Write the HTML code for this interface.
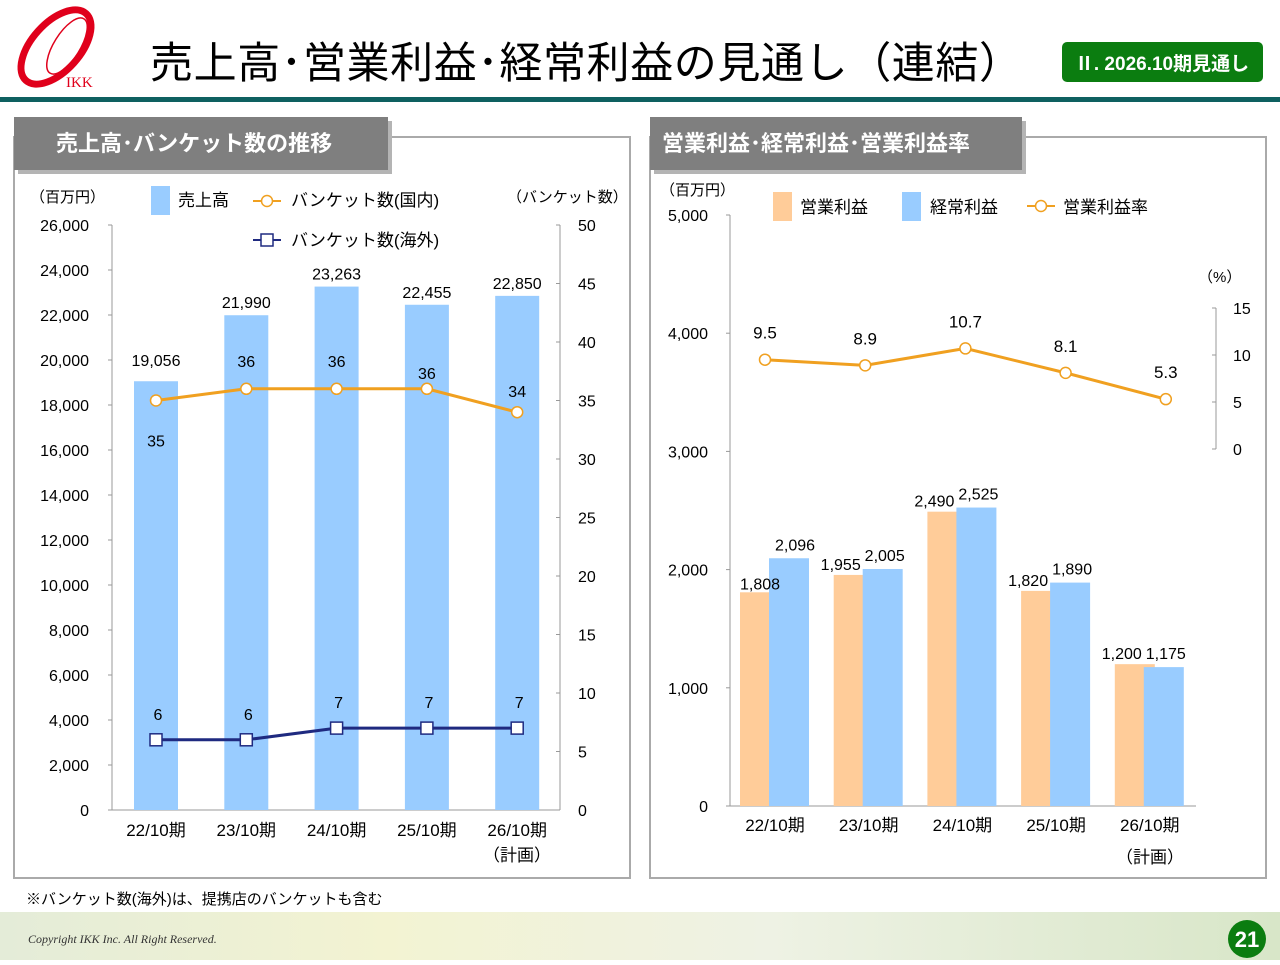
<!DOCTYPE html>
<html><head><meta charset="utf-8">
<style>
body{margin:0;width:1280px;height:960px;overflow:hidden;background:#fff;font-family:"Liberation Sans","Noto Sans CJK JP",sans-serif;}
svg text{font-family:"Liberation Sans","Noto Sans CJK JP",sans-serif;}
svg text.serif{font-family:"Liberation Serif",serif;}
</style></head>
<body>
<svg id="s" width="1280" height="960" xmlns="http://www.w3.org/2000/svg">
<defs>
<linearGradient id="bg" x1="0" x2="1" y1="0" y2="0">
<stop offset="0" stop-color="#e4ecd8"/><stop offset="0.3" stop-color="#f3f3d2"/><stop offset="0.6" stop-color="#eef2e4"/><stop offset="1" stop-color="#d8e6c8"/>
</linearGradient>
</defs>
<rect x="0" y="912" width="1280" height="48" fill="url(#bg)"/>
<g>
<ellipse cx="56" cy="47" rx="45" ry="24" transform="rotate(-48 56 47)" fill="none" stroke="#e0001b" stroke-width="7"/>
<ellipse cx="67" cy="46" rx="32" ry="13" transform="rotate(-58 67 46)" fill="none" stroke="#e0001b" stroke-width="1.5"/>
<text class="serif" x="66" y="87" font-size="15" fill="#e0001b">IKK</text>
</g>
<text x="150" y="78" font-size="43" fill="#000" letter-spacing="0.6">売上高･営業利益･経常利益の見通し（連結）</text>
<rect x="1062" y="42" width="201" height="40" rx="5" fill="#0b7d10"/>
<text x="1162" y="70" font-size="19" fill="#fff" text-anchor="middle" font-weight="bold">Ⅱ. 2026.10期見通し</text>
<rect x="0" y="97" width="1280" height="5" fill="#0e6060"/>

<rect x="14" y="137" width="616" height="741" fill="#fff" stroke="#aaa" stroke-width="2"/>
<rect x="18" y="121" width="374" height="53" fill="#b4b4b4"/>
<rect x="14" y="117" width="374" height="53" fill="#7f7f7f"/>
<text x="56" y="151" font-size="22" font-weight="bold" fill="#fff">売上高･バンケット数の推移</text>

<rect x="650" y="137" width="616" height="741" fill="#fff" stroke="#aaa" stroke-width="2"/>
<rect x="654" y="121" width="372" height="53" fill="#b4b4b4"/>
<rect x="650" y="117" width="372" height="53" fill="#7f7f7f"/>
<text x="662" y="151" font-size="22" font-weight="bold" fill="#fff">営業利益･経常利益･営業利益率</text>

<text x="26" y="904" font-size="15" fill="#000">※バンケット数(海外)は、提携店のバンケットも含む</text>
<text class="serif" x="28" y="943" font-size="12" font-style="italic" fill="#333">Copyright IKK Inc. All Right Reserved.</text>
<circle cx="1247" cy="939" r="19" fill="#0b7d10"/>
<text x="1247" y="947" font-size="22" font-weight="bold" fill="#fff" text-anchor="middle">21</text>
<g id="L"></g><g id="R"></g>
</svg>
<script>
// left chart data
const cats = ["22/10期","23/10期","24/10期","25/10期","26/10期"];
const sales = [19056,21990,23263,22455,22850];
const banqDom = [35,36,36,36,34];
const banqOver = [6,6,7,7,7];
const leftTicks = [0,2000,4000,6000,8000,10000,12000,14000,16000,18000,20000,22000,24000,26000];
const rightTicks = [0,5,10,15,20,25,30,35,40,45,50];
// right chart data
const opInc = [1808,1955,2490,1820,1200];
const ordInc = [2096,2005,2525,1890,1175];
const opMargin = [9.5,8.9,10.7,8.1,5.3];
const profitTicks = [0,1000,2000,3000,4000,5000];
const pctTicks = [0,5,10,15];

const NS="http://www.w3.org/2000/svg";
function mk(parent,tag,attrs,txt){const e=document.createElementNS(NS,tag);for(const k in attrs)e.setAttribute(k,attrs[k]);if(txt!==undefined)e.textContent=txt;parent.appendChild(e);return e;}
const fmt=v=>v.toLocaleString("en-US");

// ---- Left chart
const L=document.getElementById("L");
const lx=i=>156+i*90.3;
const ly=v=>810-v*585/26000;
const ly2=v=>810-v*585/50;
mk(L,"line",{x1:112,y1:225,x2:112,y2:810,stroke:"#999"});
mk(L,"line",{x1:560,y1:225,x2:560,y2:810,stroke:"#999"});
mk(L,"line",{x1:112,y1:810,x2:560,y2:810,stroke:"#999"});
leftTicks.forEach(t=>{
  mk(L,"line",{x1:108,y1:ly(t),x2:112,y2:ly(t),stroke:"#999"});
  const e=mk(L,"text",{x:89,y:ly(t)+6,"font-size":16,"text-anchor":"end"},fmt(t));
  
  
});
rightTicks.forEach(t=>{
  mk(L,"line",{x1:556,y1:ly2(t),x2:560,y2:ly2(t),stroke:"#999"});
  const e=mk(L,"text",{x:578,y:ly2(t)+6,"font-size":16},t);
  
  
});
mk(L,"text",{x:30,y:202,"font-size":15},"（百万円）");
mk(L,"text",{x:507,y:202,"font-size":15},"（バンケット数）");
sales.forEach((v,i)=>{
  const b=mk(L,"rect",{x:lx(i)-22,y:ly(v),width:44,height:810-ly(v),fill:"#99ccff"});
  
  
  mk(L,"text",{x:lx(i),y:ly(v)-(i===0?15:7),"font-size":16,"text-anchor":"middle"},fmt(v));
  const c=mk(L,"text",{x:lx(i),y:836,"font-size":17,"text-anchor":"middle"},cats[i]);
  
  
});
mk(L,"text",{x:517,y:861,"font-size":17,"text-anchor":"middle"},"（計画）");
function poly(g,vals,fx,fy,col){return mk(g,"polyline",{points:vals.map((v,i)=>fx(i)+","+fy(v)).join(" "),fill:"none",stroke:col,"stroke-width":3});}
let p=poly(L,banqDom,lx,ly2,"#f0a020");
p=poly(L,banqOver,lx,ly2,"#1f2a80");
banqDom.forEach((v,i)=>{
  const m=mk(L,"circle",{cx:lx(i),cy:ly2(v),r:5.5,fill:"#fff",stroke:"#f0a020","stroke-width":1.5});
  
  
  const dy=i===0?46:(i===3?-10:(i===4?-15:-22));
  mk(L,"text",{x:lx(i),y:ly2(v)+dy,"font-size":16,"text-anchor":"middle"},v);
});
banqOver.forEach((v,i)=>{
  const m=mk(L,"rect",{x:lx(i)-6,y:ly2(v)-6,width:12,height:12,fill:"#fff",stroke:"#1f2a80","stroke-width":1.5});
  
  
  mk(L,"text",{x:lx(i)+2,y:ly2(v)-20,"font-size":16,"text-anchor":"middle"},v);
});
// legend
mk(L,"rect",{x:151,y:186,width:19,height:29,fill:"#99ccff"});
mk(L,"text",{x:178,y:206,"font-size":17},"売上高");
mk(L,"line",{x1:253,y1:201,x2:281,y2:201,stroke:"#f0a020","stroke-width":2});
mk(L,"circle",{cx:267,cy:201,r:5.5,fill:"#fff",stroke:"#f0a020","stroke-width":1.5});
mk(L,"text",{x:291,y:206,"font-size":17},"バンケット数(国内)");
mk(L,"line",{x1:253,y1:240,x2:281,y2:240,stroke:"#1f2a80","stroke-width":2});
mk(L,"rect",{x:261,y:234,width:12,height:12,fill:"#fff",stroke:"#1f2a80","stroke-width":1.5});
mk(L,"text",{x:291,y:246,"font-size":17},"バンケット数(海外)");

// ---- Right chart
const R=document.getElementById("R");
const rx=i=>775+i*93.7;
const ry=v=>806-v*591/5000;
const ry2=v=>449-v*141/15;
mk(R,"line",{x1:730,y1:215,x2:730,y2:806,stroke:"#999"});
mk(R,"line",{x1:730,y1:806,x2:1196,y2:806,stroke:"#999"});
mk(R,"line",{x1:1216,y1:308,x2:1216,y2:449,stroke:"#999"});
profitTicks.forEach(t=>{
  mk(R,"line",{x1:726,y1:ry(t),x2:730,y2:ry(t),stroke:"#999"});
  const e=mk(R,"text",{x:708,y:ry(t)+6,"font-size":16,"text-anchor":"end"},fmt(t));
  
  
});
pctTicks.forEach(t=>{
  mk(R,"line",{x1:1212,y1:ry2(t),x2:1216,y2:ry2(t),stroke:"#999"});
  const e=mk(R,"text",{x:1233,y:ry2(t)+6,"font-size":16},t);
  
  
});
mk(R,"text",{x:660,y:195,"font-size":15},"（百万円）");
mk(R,"text",{x:1198,y:282,"font-size":15},"（%）");
opInc.forEach((v,i)=>{
  const b=mk(R,"rect",{x:rx(i)-35,y:ry(v),width:40,height:806-ry(v),fill:"#ffcc99"});
  
  
});
ordInc.forEach((v,i)=>{
  const b=mk(R,"rect",{x:rx(i)-6,y:ry(v),width:40,height:806-ry(v),fill:"#99ccff"});
  
  
});
opInc.forEach((v,i)=>{
  mk(R,"text",{x:rx(i)-(i===0?15:28),y:ry(v)+(i===0?-3:-5),"font-size":16,"text-anchor":"middle"},fmt(v));
});
ordInc.forEach((v,i)=>{
  mk(R,"text",{x:rx(i)+(i===0?20:16),y:ry(v)-8,"font-size":16,"text-anchor":"middle"},fmt(v));
  const c=mk(R,"text",{x:rx(i),y:831,"font-size":17,"text-anchor":"middle"},cats[i]);
  
  
});
mk(R,"text",{x:1150,y:863,"font-size":17,"text-anchor":"middle"},"（計画）");
const rmx=i=>765+i*100.2;
p=poly(R,opMargin,rmx,ry2,"#f0a020");
opMargin.forEach((v,i)=>{
  const m=mk(R,"circle",{cx:rmx(i),cy:ry2(v),r:5.5,fill:"#fff",stroke:"#f0a020","stroke-width":1.5});
  
  
  mk(R,"text",{x:rmx(i),y:ry2(v)-21,"font-size":17,"text-anchor":"middle"},v.toFixed(1));
});
mk(R,"rect",{x:773,y:192,width:19,height:29,fill:"#ffcc99"});
mk(R,"text",{x:800,y:213,"font-size":17},"営業利益");
mk(R,"rect",{x:902,y:192,width:19,height:29,fill:"#99ccff"});
mk(R,"text",{x:930,y:213,"font-size":17},"経常利益");
mk(R,"line",{x1:1027,y1:206,x2:1055,y2:206,stroke:"#f0a020","stroke-width":2});
mk(R,"circle",{cx:1041,cy:206,r:5.5,fill:"#fff",stroke:"#f0a020","stroke-width":1.5});
mk(R,"text",{x:1063,y:213,"font-size":17},"営業利益率");
</script>
</body></html>
